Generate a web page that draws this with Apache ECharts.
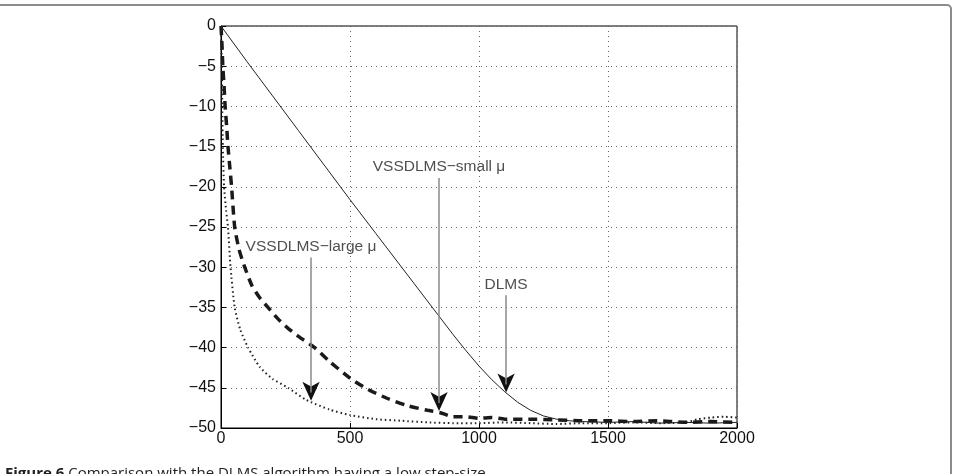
<!DOCTYPE html>
<html>
<head>
<meta charset="utf-8">
<script src="https://cdn.jsdelivr.net/npm/echarts@6/dist/echarts.min.js"></script>
<style>
  html, body { margin: 0; padding: 0; background: #fff; }
  #chart { width: 954px; height: 474px; }
</style>
</head>
<body>
<div id="chart"></div>
<script>
// DLMS (thin solid)
const dlmsX = [0, 100, 200, 300, 400, 500, 600, 700, 800, 850, 900, 950, 1000, 1050, 1100, 1150, 1200, 1250, 1300, 1350, 1400, 1500, 1600, 1700, 1800, 1900, 2000];
const dlmsY = [0, -4.4, -8.7, -13, -17.3, -21.6, -25.8, -30, -34.2, -36.3, -38.4, -40.4, -42.3, -44, -45.5, -46.8, -47.8, -48.5, -48.9, -49.1, -49.2, -49.3, -49.2, -49.4, -49.3, -49.4, -49.3];

// VSSDLMS small mu (thick dashed)
const smallX = [0, 4, 7, 12, 16, 22, 27, 34, 41, 53, 70, 92, 120, 150, 182, 220, 260, 300, 363, 420, 500, 570, 643, 720, 800, 850, 900, 950, 1000, 1050, 1100, 1200, 1300, 1400, 1500, 1600, 1700, 1800, 1900, 2000];
const smallY = [0, -2.5, -5, -7.5, -10, -12.5, -15, -17.5, -20, -25, -27.8, -30, -32.3, -33.8, -35, -36.4, -37.6, -38.6, -40, -41.7, -43.8, -45.2, -46.3, -47.2, -47.8, -48.1, -48.6, -48.6, -48.8, -48.7, -48.9, -48.9, -49.0, -49.1, -49.1, -49.2, -49.1, -49.3, -49.2, -49.3];

// VSSDLMS large mu (dotted)
const largeX = [0, 2, 3, 5, 7, 12, 20, 27, 37, 53, 75, 105, 150, 200, 260, 330, 420, 500, 600, 700, 800, 900, 1000, 1100, 1200, 1300, 1400, 1500, 1600, 1700, 1800, 1850, 1900, 1950, 2000];
const largeY = [0, -3, -5, -10, -15, -20, -23, -25, -30, -35, -37.8, -40, -42.4, -43.9, -45, -46.5, -47.7, -48.4, -48.9, -49.1, -49.3, -49.4, -49.4, -49.3, -49.4, -49.5, -49.4, -49.4, -49.3, -49.4, -49.3, -48.9, -48.7, -48.6, -48.7];

// annotations
const annoText = ['VSSDLMS\u2212large \u03bc', 'VSSDLMS\u2212small \u03bc', 'DLMS'];
const annoX = [349, 845, 1105];
const annoTopY = [-28.8, -18.9, -33.5];
const annoTipY = [-46.6, -47.9, -45.6];

const pairs = (xs, ys) => xs.map((x, i) => [x, ys[i]]);
const minus = (v) => String(v).replace('-', '\u2212');

const chart = echarts.init(document.getElementById('chart'));

const option = {
    animation: false,
    backgroundColor: '#fff',
    grid: {
        left: 221, top: 26, width: 516, height: 402,
        show: true, borderColor: '#000', borderWidth: 1
    },
    xAxis: {
        type: 'value', min: 0, max: 2000, interval: 500,
        axisLine: { onZero: false, lineStyle: { color: '#000', width: 1 } },
        axisTick: { inside: true, length: 5, lineStyle: { color: '#000' } },
        axisLabel: { color: '#111', fontSize: 16, fontFamily: 'Liberation Sans', margin: 3, formatter: (v) => String(v) },
        splitLine: { show: true, lineStyle: { color: '#666', type: [1, 4], width: 1 } }
    },
    yAxis: {
        type: 'value', min: -50, max: 0, interval: 5,
        axisLine: { onZero: false, lineStyle: { color: '#000', width: 1 } },
        axisTick: { inside: true, length: 5, lineStyle: { color: '#000' } },
        axisLabel: { color: '#111', fontSize: 16, fontFamily: 'Liberation Sans', margin: 5, formatter: minus },
        splitLine: { show: true, lineStyle: { color: '#666', type: [1, 4], width: 1 } }
    },
    series: [
        {
            name: 'DLMS', type: 'line', data: pairs(dlmsX, dlmsY),
            showSymbol: false, symbol: 'none',
            lineStyle: { color: '#222', width: 1 }
        },
        {
            name: 'VSSDLMS-small', type: 'line', data: pairs(smallX, smallY),
            showSymbol: false, symbol: 'none', smooth: 0.2,
            lineStyle: { color: '#1a1a1a', width: 3.5, type: [9, 6] }
        },
        {
            name: 'VSSDLMS-large', type: 'line', data: pairs(largeX, largeY),
            showSymbol: false, symbol: 'none', smooth: 0.2,
            lineStyle: { color: '#222', width: 2, type: [1.5, 3] }
        },
        {
            name: 'arrows', type: 'line', data: [],
            markLine: {
                silent: true, symbol: ['none', 'none'], animation: false,
                label: { show: false },
                lineStyle: { color: '#8a8a8a', width: 1.5, type: 'solid' },
                data: annoX.map((x, i) => [{ coord: [x, annoTopY[i]] }, { coord: [x, annoTipY[i] + 1] }])
            }
        },
        {
            name: 'heads', type: 'scatter', data: pairs(annoX, annoTipY),
            symbol: 'arrow', symbolSize: [13, 19], symbolRotate: 180,
            symbolOffset: [0, 0],
            itemStyle: { color: '#111', opacity: 1 }, silent: true
        },
        {
            name: 'labels', type: 'scatter', data: pairs(annoX, annoTopY),
            symbolSize: 0, silent: true,
            label: {
                show: true, position: 'top', distance: 3,
                color: '#222', fontSize: 15.5, fontFamily: 'Liberation Sans',
                formatter: (p) => annoText[p.dataIndex]
            }
        }
    ],
    graphic: [
        {
            type: 'rect', silent: true,
            shape: { x: -10, y: 5, width: 961, height: 600, r: 4 },
            style: { fill: 'none', stroke: '#8c8c8c', lineWidth: 2 }
        },
        {
            type: 'text', left: 5, top: 466, silent: true,
            style: {
                text: '{b|Figure 6} Comparison with the DLMS algorithm having a low step-size.',
                fill: '#222', font: '15px "Open Sans"',
                rich: { b: { fontWeight: 'bold', fontSize: 15, fontFamily: 'Open Sans', fill: '#222' } }
            }
        }
    ]
};

chart.setOption(option);
</script>
</body>
</html>
